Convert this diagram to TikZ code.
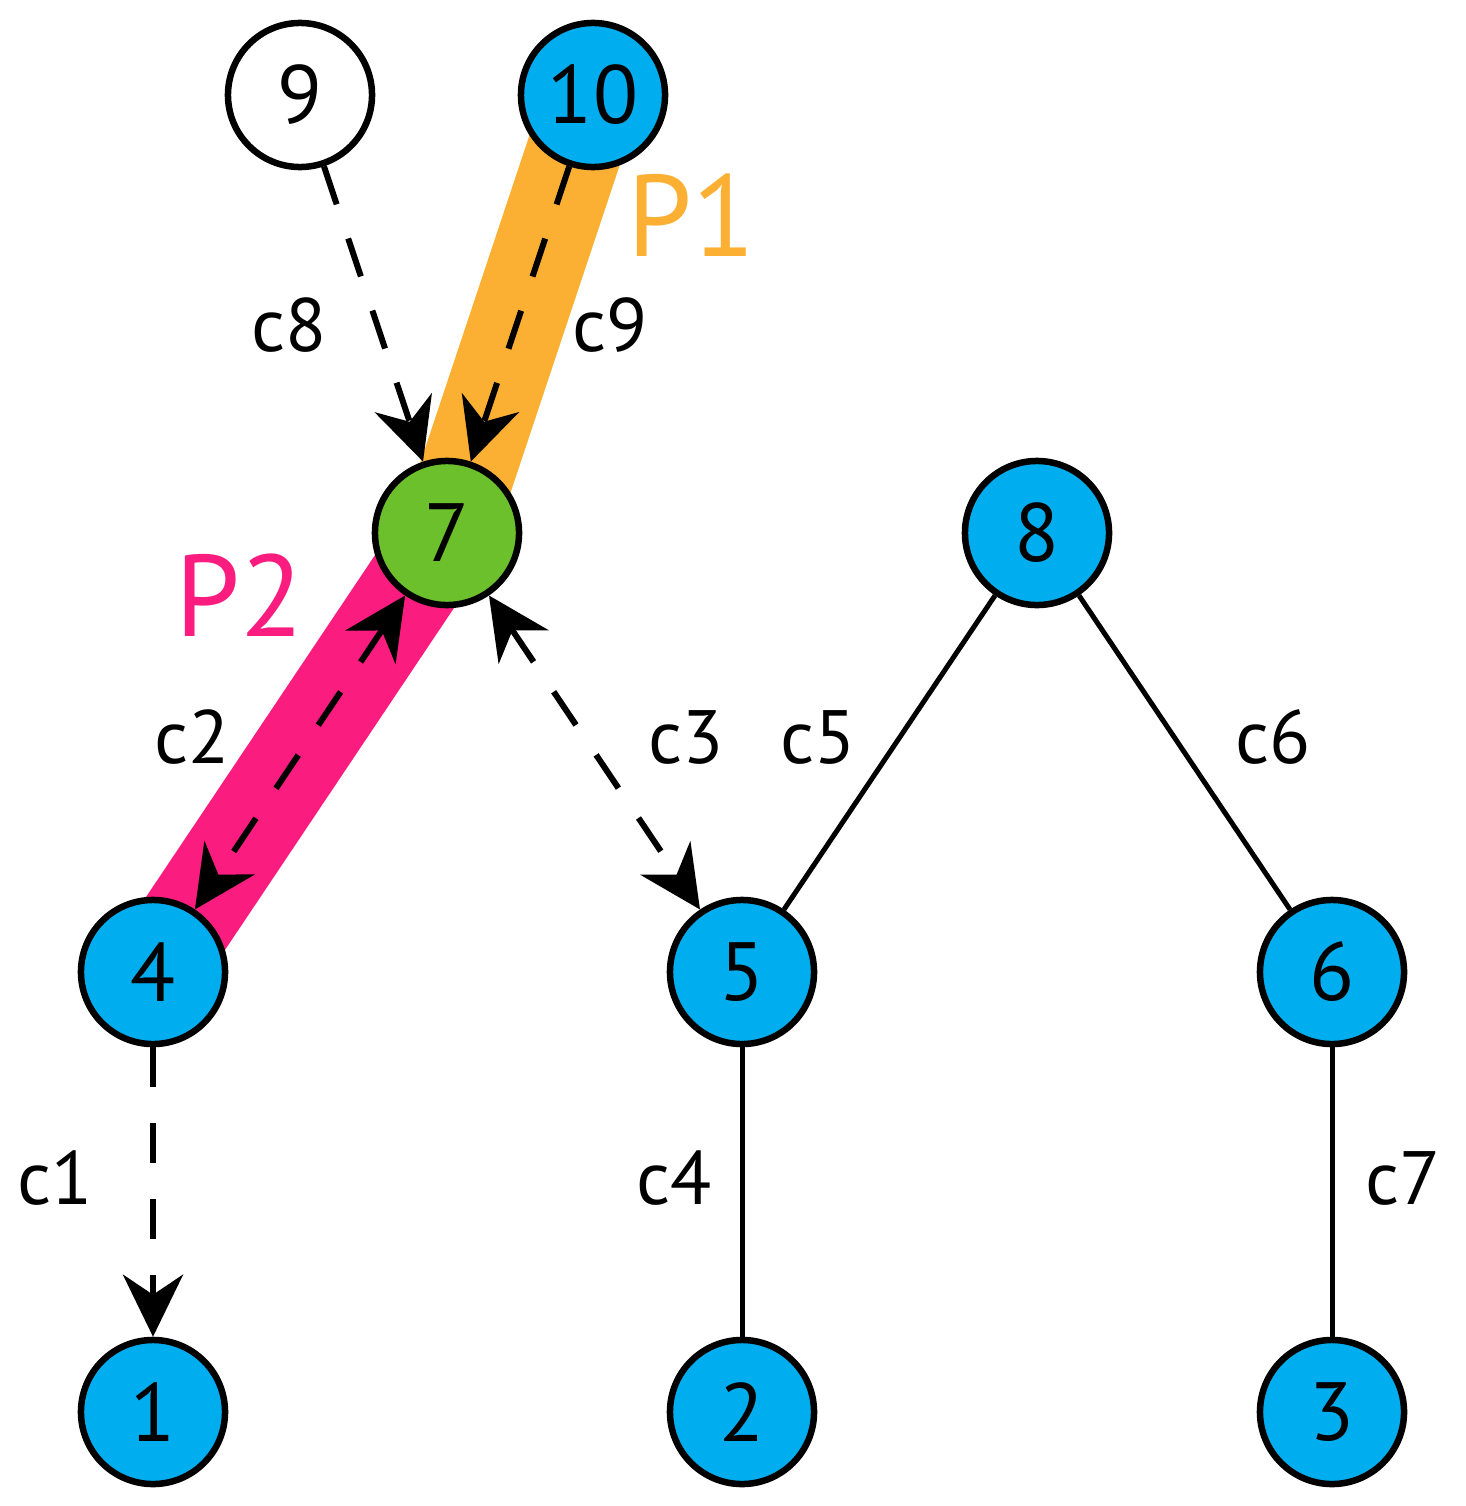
\documentclass[tikz,border=0pt]{standalone}
\usepackage{fontspec}
\setmainfont{PT Sans}
\usetikzlibrary{arrows.meta,backgrounds}
\definecolor{nblue}{RGB}{0,174,239}
\definecolor{ngreen}{RGB}{108,192,44}
\definecolor{porange}{RGB}{251,176,52}
\definecolor{ppink}{RGB}{250,28,126}
\tikzset{
  vtx/.style={circle,draw=black,line width=0.065cm,minimum size=1.44cm,inner sep=0pt,fill=nblue,font=\fontsize{23.5}{27}\selectfont},
  lbl/.style={font=\fontsize{21.5}{25}\selectfont,inner sep=0pt},
  plbl/.style={font=\fontsize{33}{38}\selectfont,inner sep=0pt},
  dedge/.style={line width=0.06cm,dash pattern=on 0.4cm off 0.36cm,-{Stealth[length=0.62cm,width=0.6cm,inset=0.2cm]}},
  ddedge/.style={line width=0.06cm,dash pattern=on 0.4cm off 0.36cm,{Stealth[length=0.62cm,width=0.6cm,inset=0.2cm]}-{Stealth[length=0.62cm,width=0.6cm,inset=0.2cm]}},
  sedge/.style={line width=0.05cm},
  band/.style={line width=0.95cm}
}
\begin{document}
\begin{tikzpicture}[x=0.01cm,y=-0.01cm]
\useasboundingbox (0,0) rectangle (1465,1506);
\node[vtx,fill=white] (n9) at (300,95) {9};
\node[vtx] (n10) at (593,95) {10};
\node[vtx,fill=ngreen] (n7) at (447,533) {7};
\node[vtx] (n8) at (1037,533) {8};
\node[vtx] (n4) at (153,972) {4};
\node[vtx] (n5) at (742,972) {5};
\node[vtx] (n6) at (1332,972) {6};
\node[vtx] (n1) at (153,1412) {1};
\node[vtx] (n2) at (742,1412) {2};
\node[vtx] (n3) at (1332,1412) {3};
\begin{scope}[on background layer]
\draw[band,porange] (n10.center) -- (n7.center);
\draw[band,ppink] (n7.center) -- (n4.center);
\end{scope}
\draw[dedge] (n9) -- (n7);
\draw[dedge] (n10) -- (n7);
\draw[ddedge] (n7) -- (n4);
\draw[ddedge] (n7) -- (n5);
\draw[dedge] (n4) -- (n1);
\draw[sedge] (n8) -- (n5);
\draw[sedge] (n8) -- (n6);
\draw[sedge] (n5) -- (n2);
\draw[sedge] (n6) -- (n3);
\node[lbl] (lc8) at (289,325) {c8};
\node[lbl] (lc9) at (610,325) {c9};
\node[plbl,text=porange] (lp1) at (692,215) {P1};
\node[plbl,text=ppink] (lp2) at (240,595) {P2};
\node[lbl] (lc2) at (192,737) {c2};
\node[lbl] (lc3) at (686,737) {c3};
\node[lbl] (lc5) at (818,737) {c5};
\node[lbl] (lc6) at (1273,737) {c6};
\node[lbl] (lc1) at (55,1178) {c1};
\node[lbl] (lc4) at (674,1178) {c4};
\node[lbl] (lc7) at (1403,1178) {c7};
\end{tikzpicture}
\end{document}
